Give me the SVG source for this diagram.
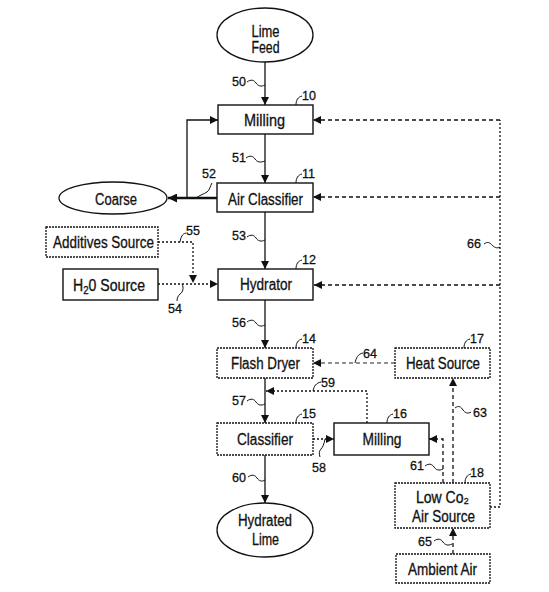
<svg xmlns="http://www.w3.org/2000/svg" width="549" height="592" viewBox="0 0 549 592">
<defs>
<marker id="ah" viewBox="0 0 10 10" refX="10" refY="5" markerWidth="9" markerHeight="8" markerUnits="userSpaceOnUse" orient="auto"><path d="M0,0 L10,5 L0,10 z" fill="#111"/></marker>
<marker id="ahb" viewBox="0 0 10 10" refX="10" refY="5" markerWidth="10" markerHeight="9" markerUnits="userSpaceOnUse" orient="auto"><path d="M0,0 L10,5 L0,10 z" fill="#111"/></marker>
</defs>
<style>
.box{fill:#fff;stroke:#111;stroke-width:1.4}
.dbox{fill:#fff;stroke:#111;stroke-width:1.3;stroke-dasharray:2 1}
.ell{fill:#fff;stroke:#111;stroke-width:1.3}
.t{font-family:"Liberation Sans",Arial,"DejaVu Sans",sans-serif;font-size:16px;fill:#111;stroke:#111;stroke-width:0.3;text-anchor:middle}
.n{font-family:"Liberation Sans",Arial,sans-serif;font-size:12.5px;fill:#111;stroke:#111;stroke-width:0.3}
.ln{fill:none;stroke:#111;stroke-width:1.3}
.bold{fill:none;stroke:#111;stroke-width:2.6}
.dash{fill:none;stroke:#111;stroke-width:1.3;stroke-dasharray:4 3}
.fdash{fill:none;stroke:#222;stroke-width:1;stroke-dasharray:4 3}
.dot{fill:none;stroke:#111;stroke-width:1.3;stroke-dasharray:2 2}
.lead{fill:none;stroke:#111;stroke-width:1}
</style>

<g id="connectors">
<path class="ln" d="M265,62 V105" marker-end="url(#ah)"/>
<path class="ln" d="M265,134 V183" marker-end="url(#ah)"/>
<path class="ln" d="M265,212 V269" marker-end="url(#ah)"/>
<path class="ln" d="M265,300 V348" marker-end="url(#ah)"/>
<path class="ln" d="M265,378 V423" marker-end="url(#ah)"/>
<path class="ln" d="M265,455 V503" marker-end="url(#ah)"/>
<path class="bold" d="M217,198 H168" marker-end="url(#ahb)"/>
<path class="ln" stroke-width="1.6" d="M187,198 V120 H218" marker-end="url(#ah)"/>
<path class="dot" d="M158,242 H193 V283" marker-end="url(#ah)"/>
<path class="dot" stroke-dasharray="1.5 1.5" d="M158,284 H218" marker-end="url(#ah)"/>
<path class="fdash" d="M395,363 H313" marker-end="url(#ah)"/>
<path class="dot" stroke-dasharray="1.5 1.5" d="M367,423 V391 H266" marker-end="url(#ah)"/>
<path class="dot" stroke-dasharray="1.5 1.5" d="M313,439 H334" marker-end="url(#ah)"/>
<path class="dash" d="M443,483 V439 H429" marker-end="url(#ah)"/>
<path class="dash" d="M453,483 V378" marker-end="url(#ah)"/>
<path class="dash" d="M453,554 V528" marker-end="url(#ah)"/>
<path class="dot" stroke-dasharray="1.5 1.5" d="M490,507 H500 V120"/>
<path class="dash" d="M500,120 H313" marker-end="url(#ah)"/>
<path class="dash" d="M500,197 H313" marker-end="url(#ah)"/>
<path class="dash" d="M500,285 H314" marker-end="url(#ah)"/>
</g>

<g id="lime-feed"><ellipse class="ell" cx="265" cy="35" rx="48" ry="27"/><text class="t" x="265.5" y="37" textLength="28" lengthAdjust="spacingAndGlyphs">Lime</text><text class="t" x="265.5" y="53" textLength="28" lengthAdjust="spacingAndGlyphs">Feed</text></g>
<g id="milling-10"><rect class="box" x="218" y="105" width="95" height="29"/><text class="t" x="264.5" y="126" textLength="41" lengthAdjust="spacingAndGlyphs">Milling</text></g>
<g id="air-classifier-11"><rect class="box" x="217" y="183" width="96" height="29"/><text class="t" x="265.5" y="205" textLength="75" lengthAdjust="spacingAndGlyphs">Air Classifier</text></g>
<g id="coarse"><ellipse class="ell" cx="113" cy="198" rx="54" ry="16"/><text class="t" x="116" y="205" textLength="42" lengthAdjust="spacingAndGlyphs">Coarse</text></g>
<g id="additives-source"><rect class="dbox" x="46" y="227" width="112" height="30"/><text class="t" x="103.5" y="248" textLength="101" lengthAdjust="spacingAndGlyphs">Additives Source</text></g>
<g id="h2o-source"><rect class="box" x="63" y="269" width="95" height="31"/><text class="t" x="109" y="291" textLength="72" lengthAdjust="spacingAndGlyphs">H<tspan font-size="11" dy="3">2</tspan><tspan dy="-3">0 Source</tspan></text></g>
<g id="hydrator-12"><rect class="box" x="218" y="269" width="95" height="31"/><text class="t" x="266" y="290" textLength="52" lengthAdjust="spacingAndGlyphs">Hydrator</text></g>
<g id="flash-dryer-14"><rect class="dbox" x="217" y="348" width="96" height="30"/><text class="t" x="265.5" y="369" textLength="69" lengthAdjust="spacingAndGlyphs">Flash Dryer</text></g>
<g id="heat-source-17"><rect class="dbox" x="395" y="348" width="95" height="30"/><text class="t" x="443" y="369" textLength="74" lengthAdjust="spacingAndGlyphs">Heat Source</text></g>
<g id="classifier-15"><rect class="dbox" x="217" y="423" width="96" height="32"/><text class="t" x="265" y="445" textLength="56" lengthAdjust="spacingAndGlyphs">Classifier</text></g>
<g id="milling-16"><rect class="box" x="334" y="423" width="95" height="32"/><text class="t" x="382" y="445" textLength="39" lengthAdjust="spacingAndGlyphs">Milling</text></g>
<g id="low-co2-air-source-18"><rect class="dbox" x="395" y="483" width="95" height="45"/><text class="t" x="442.5" y="503" textLength="53" lengthAdjust="spacingAndGlyphs">Low Co₂</text><text class="t" x="443.5" y="522" textLength="63" lengthAdjust="spacingAndGlyphs">Air Source</text></g>
<g id="ambient-air"><rect class="dbox" x="396" y="554" width="94" height="29"/><text class="t" x="442.5" y="575" textLength="69" lengthAdjust="spacingAndGlyphs">Ambient Air</text></g>
<g id="hydrated-lime"><ellipse class="ell" cx="265" cy="530" rx="48" ry="27"/><text class="t" x="265" y="526" textLength="54" lengthAdjust="spacingAndGlyphs">Hydrated</text><text class="t" x="265.5" y="545" textLength="27" lengthAdjust="spacingAndGlyphs">Lime</text></g>

<g id="reference-labels">
<text class="n" x="232" y="86">50</text><path class="lead" d="M247,82 c4,-3 7,-2 9,1 s5,4 9,2"/>
<text class="n" x="302" y="100">10</text><path class="lead" d="M296,105 c0,-5 2,-8 6,-9"/>
<text class="n" x="232" y="162">51</text><path class="lead" d="M246,158 c4,-3 7,-2 9,1 s5,4 10,2"/>
<text class="n" x="202" y="178">52</text><path class="lead" d="M196,198 c4,-3 8,-4 11,-6 c3,-2 3,-6 5,-9"/>
<text class="n" x="302" y="178">11</text><path class="lead" d="M296,183 c0,-5 2,-8 6,-9"/>
<text class="n" x="186" y="235">55</text><path class="lead" d="M180,242 c1,-5 2,-8 6,-9"/>
<text class="n" x="232" y="240">53</text><path class="lead" d="M247,237 c4,-3 7,-2 9,1 s5,4 9,2"/>
<text class="n" x="302" y="264">12</text><path class="lead" d="M296,269 c0,-5 2,-8 6,-9"/>
<text class="n" x="168" y="313">54</text><path class="lead" d="M182,284 c2,4 1,8 -2,10 c-2,2 -3,4 -3,7"/>
<text class="n" x="232" y="327">56</text><path class="lead" d="M247,322 c4,-3 7,-2 9,1 s5,4 9,2"/>
<text class="n" x="302" y="343">14</text><path class="lead" d="M296,348 c0,-5 2,-8 6,-9"/>
<text class="n" x="363" y="358">64</text><path class="lead" d="M355,363 c1,-5 3,-9 8,-10"/>
<text class="n" x="470" y="343">17</text><path class="lead" d="M464,348 c0,-5 2,-8 6,-9"/>
<text class="n" x="321" y="387">59</text><path class="lead" d="M313,391 c1,-5 3,-8 8,-9"/>
<text class="n" x="232" y="405">57</text><path class="lead" d="M247,401 c4,-3 7,-2 9,1 s5,4 9,2"/>
<text class="n" x="302" y="418">15</text><path class="lead" d="M296,423 c0,-5 2,-8 6,-9"/>
<text class="n" x="393" y="418">16</text><path class="lead" d="M387,423 c0,-5 2,-8 6,-9"/>
<text class="n" x="473" y="417">63</text><path class="lead" d="M455,408 c4,-3 6,-1 8,2 s5,4 8,2"/>
<text class="n" x="312" y="472">58</text><path class="lead" d="M325,439 c-1,5 -2,8 -4,10 c-2,2 -2,5 -1,8"/>
<text class="n" x="410" y="470">61</text><path class="lead" d="M425,466 c4,-3 7,-2 9,1 s5,4 9,2"/>
<text class="n" x="470" y="477">18</text><path class="lead" d="M465,483 c0,-5 2,-8 6,-9"/>
<text class="n" x="232" y="482">60</text><path class="lead" d="M248,477 c4,-3 7,-2 9,1 s5,4 8,2"/>
<text class="n" x="418" y="546">65</text><path class="lead" d="M434,541 c4,-3 7,-2 9,1 s5,4 9,2"/>
<text class="n" x="467" y="248">66</text><path class="lead" d="M484,244 c4,-3 6,-1 8,1 s5,4 8,2"/>
</g>
</svg>
